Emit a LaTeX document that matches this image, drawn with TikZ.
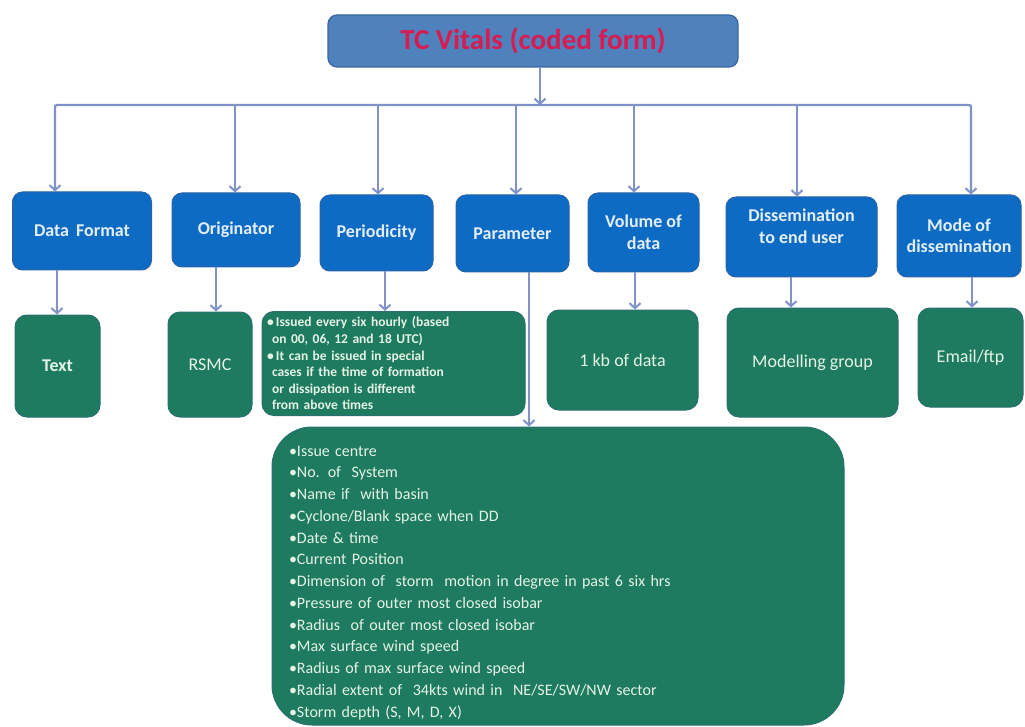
\documentclass[tikz,border=0pt]{standalone}
\usepackage{fontspec}
\setmainfont{Carlito}
\usetikzlibrary{arrows.meta}
\definecolor{topfill}{HTML}{4F81BD}
\definecolor{topdraw}{HTML}{3A679F}
\definecolor{titlered}{HTML}{D81B50}
\definecolor{bluefill}{HTML}{0D6BC4}
\definecolor{bluedraw}{HTML}{2A63A8}
\definecolor{bluetext}{HTML}{E4EEF9}
\definecolor{greenfill}{HTML}{1E7B5F}
\definecolor{greendraw}{HTML}{2B6F72}
\definecolor{greentext}{HTML}{E4F3E6}
\definecolor{conncol}{HTML}{7F93C8}
\begin{document}
\begin{tikzpicture}[x=1pt,y=-1pt,
  connline/.style={draw=conncol, line width=2.2pt},
  conn/.style={connline, -{Straight Barb[length=5pt,width=11pt,line width=2pt]}},
  topbox/.style={draw=topdraw, line width=1.2pt, fill=topfill, rounded corners=9pt, inner sep=0pt,
    font=\bfseries\fontsize{29}{32}\selectfont, text=titlered},
  bluebox/.style={draw=bluedraw, line width=1pt, fill=bluefill, rounded corners=10pt, inner sep=0pt,
    align=center, font=\bfseries\fontsize{18}{21.5}\selectfont, text=bluetext},
  greenbox/.style={draw=greendraw, line width=1pt, fill=greenfill, rounded corners=12pt, inner sep=0pt,
    align=center, font=\fontsize{18}{21}\selectfont, text=greentext},
]
\useasboundingbox (0,0) rectangle (1025,727);
\fill[white] (0,0) rectangle (1025,727);

% top box
\node[topbox, minimum width=410pt, minimum height=52pt] (top) at (533,41) {TC Vitals (coded form)};

% blue boxes
\node[bluebox, minimum width=139pt, minimum height=78pt] (df) at (82,231) {Data \,Format};
\node[bluebox, minimum width=128pt, minimum height=74pt] (orig) at (236,230) {Originator};
\node[bluebox, minimum width=113pt, minimum height=76pt] (per) at (376.5,233) {Periodicity};
\node[bluebox, minimum width=113pt, minimum height=77pt] (par) at (512.5,233.5) {Parameter};
\node[bluebox, minimum width=111pt, minimum height=79pt] (vol) at (643.5,232.5) {Volume of\\data};
\node[bluebox, minimum width=151pt, minimum height=80pt] (dis) at (801.5,237) {Dissemination\\to end user\\[0pt]\mbox{}};
\node[bluebox, minimum width=124pt, minimum height=82pt] (mode) at (959,236) {Mode of\\dissemination};

% green boxes
\node[greenbox, minimum width=85pt, minimum height=102pt, font=\bfseries\fontsize{18}{21}\selectfont] (txt) at (57.5,366) {Text};
\node[greenbox, minimum width=84pt, minimum height=105pt] (rsmc) at (210,364.5) {RSMC};
\node[greenbox, minimum width=263pt, minimum height=104pt, align=left, text width=253pt, inner xsep=5pt,
  font=\bfseries\fontsize{13.5}{16.6}\selectfont] (pertext) at (393.5,363.5)
  {•\,Issued every six hourly (based\\
   \hspace*{5pt}on 00, 06, 12 and 18 UTC)\\
   •\,It can be issued in special\\
   \hspace*{5pt}cases if the time of formation\\
   \hspace*{5pt}or dissipation is different\\
   \hspace*{5pt}from above times};
\node[greenbox, minimum width=151pt, minimum height=100pt] (kb) at (622.5,360) {1 kb of data};
\node[greenbox, minimum width=171pt, minimum height=109pt] (mg) at (812.5,362.5) {Modelling group};
\node[greenbox, minimum width=105pt, minimum height=99pt] (em) at (970.5,357.5) {Email/ftp};

% parameter list
\node[greenbox, rounded corners=40pt, minimum width=572pt, minimum height=298pt, align=left,
  text width=538pt, inner xsep=17pt, font=\fontsize{16}{21.75}\selectfont] (big) at (558,576)
  {\rule{0pt}{24pt}•Issue centre\\
   •No. of \ System\\
   •Name if \ with basin\\
   •Cyclone/Blank space when DD\\
   •Date \& time\\
   •Current Position\\
   •Dimension of \ storm \ motion in degree in past 6 six hrs\\
   •Pressure of outer most closed isobar\\
   •Radius \ of outer most closed isobar\\
   •Max surface wind speed\\
   •Radius of max surface wind speed\\
   •Radial extent of \ 34kts wind in \ NE/SE/SW/NW sector\\
   •Storm depth (S, M, D, X)};

% connectors
\coordinate (hub) at (540,105);
\coordinate (a1) at (55,105);
\coordinate (a2) at (235,105);
\coordinate (a3) at (378,105);
\coordinate (a4) at (516,105);
\coordinate (a5) at (634,105);
\coordinate (a6) at (797,105);
\coordinate (a7) at (971,105);
\draw[conn] (hub |- top.south) -- (hub);
\draw[connline, rounded corners=2pt] (a1 |- df.north) -- (a1) -- (a7) -- (a7 |- mode.north);
\draw[conn] (a1) -- (a1 |- df.north);
\draw[conn] (a2) -- (a2 |- orig.north);
\draw[conn] (a3) -- (a3 |- per.north);
\draw[conn] (a4) -- (a4 |- par.north);
\draw[conn] (a5) -- (a5 |- vol.north);
\draw[conn] (a6) -- (a6 |- dis.north);
\draw[conn] (a7) -- (a7 |- mode.north);

\coordinate (b1) at (57,0);
\coordinate (b2) at (216,0);
\coordinate (b3) at (385,0);
\coordinate (b4) at (529,0);
\coordinate (b5) at (635,0);
\coordinate (b6) at (791,0);
\coordinate (b7) at (972,0);
\draw[conn] (b1 |- df.south) -- (b1 |- txt.north);
\draw[conn] (b2 |- orig.south) -- (b2 |- rsmc.north);
\draw[conn] (b3 |- per.south) -- (b3 |- pertext.north);
\draw[conn] (b4 |- par.south) -- (b4 |- big.north);
\draw[conn] (b5 |- vol.south) -- (b5 |- kb.north);
\draw[conn] (b6 |- dis.south) -- (b6 |- mg.north);
\draw[conn] (b7 |- mode.south) -- (b7 |- em.north);
\end{tikzpicture}
\end{document}
